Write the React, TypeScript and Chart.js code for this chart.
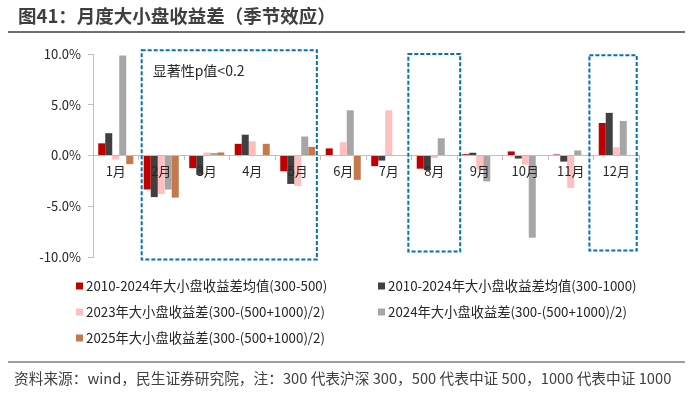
import React, { useEffect, useRef } from "react";
import { Chart, registerables } from "chart.js";

Chart.register(...registerables);

const months = ["1月", "2月", "3月", "4月", "5月", "6月", "7月", "8月", "9月", "10月", "11月", "12月"];
const avg300_500 = [1.2, -3.35, -1.25, 1.15, -1.55, 0.7, -1.05, -1.3, 0.13, 0.4, 0.1, 3.2];
const avg300_1000 = [2.2, -4.1, -1.9, 2.05, -2.8, -0.05, -0.5, -1.45, 0.27, -0.3, -0.6, 4.2];
const diff2023 = [-0.4, -3.8, 0.3, 1.4, -3.0, 1.3, 4.45, -0.25, -1.35, -0.9, -3.2, 0.8];
const diff2024 = [9.85, -3.35, 0.25, 0.0, 1.87, 4.45, 0.05, 1.7, -2.55, -8.1, 0.5, 3.4];
const diff2025 = [-0.85, -4.15, 0.3, 1.15, 0.85, -2.4, null, null, null, null, null, null];
const seriesLabels = [
  "2010-2024年大小盘收益差均值(300-500)",
  "2010-2024年大小盘收益差均值(300-1000)",
  "2023年大小盘收益差(300-(500+1000)/2)",
  "2024年大小盘收益差(300-(500+1000)/2)",
  "2025年大小盘收益差(300-(500+1000)/2)",
];
const yTicks = [-10, -5, 0, 5, 10];
const titleText = "图41：月度大小盘收益差（季节效应）";
const noteText = "显著性p值<0.2";
const sourceText = "资料来源：wind，民生证券研究院，注：300 代表沪深 300，500 代表中证 500，1000 代表中证 1000";

const colors = ["#C00000", "#404040", "#FFBFBF", "#A6A6A6", "#C5794A"];
const FONT = '"Noto Sans CJK SC", "Noto Sans", sans-serif';

const decorPlugin = {
  id: "decor",
  afterDraw(chart: any) {
    const ctx = chart.ctx;
    const xs = chart.scales.x;
    const ys = chart.scales.y;
    const cw = xs.width / months.length;
    ctx.save();
    // title
    ctx.fillStyle = "#3F3F3F";
    ctx.font = `bold 18.5px ${FONT}`;
    ctx.textBaseline = "middle";
    ctx.textAlign = "left";
    ctx.fillText(titleText, 18, 16);
    ctx.strokeStyle = "#404040";
    ctx.lineWidth = 1.5;
    ctx.beginPath();
    ctx.moveTo(8, 32);
    ctx.lineTo(685, 32);
    ctx.stroke();
    // footer
    ctx.lineWidth = 1.2;
    ctx.beginPath();
    ctx.moveTo(8, 362);
    ctx.lineTo(685, 362);
    ctx.stroke();
    ctx.fillStyle = "#404040";
    ctx.font = `14.7px ${FONT}`;
    ctx.fillText(sourceText, 14, 378);

    // dashed boxes
    const boxes = [
      { a: 1, da: -0.43, b: 4, db: 0.42, top: 10.37, bot: -10.25 },
      { a: 7, da: -0.57, b: 7, db: 0.57, top: 10.0, bot: -9.46 },
      { a: 11, da: -0.59, b: 11, db: 0.45, top: 9.88, bot: -9.36 },
    ];
    ctx.strokeStyle = "#0070C0";
    ctx.lineWidth = 2;
    ctx.setLineDash([4, 2]);
    boxes.forEach((bx) => {
      const x1 = xs.getPixelForValue(bx.a) + bx.da * cw;
      const x2 = xs.getPixelForValue(bx.b) + bx.db * cw;
      const y1 = ys.getPixelForValue(bx.top);
      const y2 = ys.getPixelForValue(bx.bot);
      ctx.strokeRect(x1, y1, x2 - x1, y2 - y1);
    });
    ctx.setLineDash([]);
    // note
    ctx.fillStyle = "#262626";
    ctx.font = `14px ${FONT}`;
    ctx.fillText(noteText, xs.getPixelForValue(1) - 0.43 * cw + 11, ys.getPixelForValue(8.4));

    // legend
    ctx.font = `13.3px ${FONT}`;
    chart.data.datasets.forEach((ds: any, i: number) => {
      const col = i % 2;
      const row = Math.floor(i / 2);
      const sx = col === 0 ? 76 : 378;
      const y = 286 + row * 26;
      ctx.fillStyle = ds.backgroundColor;
      ctx.fillRect(sx, y - 3.5, 7, 7);
      ctx.fillStyle = "#262626";
      ctx.fillText(ds.label, sx + 10, y);
    });
    ctx.restore();
  },
};

export default function App() {
  const ref = useRef<HTMLCanvasElement>(null);
  useEffect(() => {
    const series = [avg300_500, avg300_1000, diff2023, diff2024, diff2025];
    const chart = new Chart(ref.current as HTMLCanvasElement, {
      type: "bar",
      data: {
        labels: months,
        datasets: series.map((d, i) => ({
          label: seriesLabels[i],
          data: d,
          backgroundColor: colors[i],
          borderWidth: 0,
          barPercentage: 1.0,
          categoryPercentage: 0.77,
        })),
      },
      options: {
        responsive: false,
        animation: false,
        devicePixelRatio: 1,
        layout: { padding: { left: 0, right: 61, top: 54, bottom: 139 } },
        plugins: {
          legend: { display: false },
          title: { display: false },
          tooltip: { enabled: false },
        },
        scales: {
          x: {
            position: { y: 0 } as any,
            grid: {
              offset: true,
              drawOnChartArea: false,
              drawTicks: true,
              tickLength: 4,
              color: "#BFBFBF",
            },
            border: { color: "#BFBFBF", width: 1 },
            ticks: {
              z: 1,
              font: { family: FONT, size: 13 },
              color: "#262626",
              padding: 4,
              maxRotation: 0,
              autoSkip: false,
            } as any,
          },
          y: {
            min: -10,
            max: 10,
            afterFit: (s: any) => {
              s.width = 93;
            },
            afterBuildTicks: (s: any) => {
              s.ticks = yTicks.map((v) => ({ value: v }));
            },
            grid: {
              drawOnChartArea: false,
              drawTicks: true,
              tickLength: 5,
              color: "#BFBFBF",
            },
            border: { color: "#BFBFBF", width: 1 },
            ticks: {
              font: { family: FONT, size: 13 },
              color: "#262626",
              padding: 7,
              callback: (v: any) => Number(v).toFixed(1) + "%",
            },
          },
        },
      },
      plugins: [decorPlugin],
    });
    return () => chart.destroy();
  }, []);
  return (
    <div style={{ position: "fixed", left: 0, top: 0, width: 700, height: 396, background: "#fff" }}>
      <canvas ref={ref} width={700} height={396} style={{ width: 700, height: 396, display: "block" }} />
    </div>
  );
}
